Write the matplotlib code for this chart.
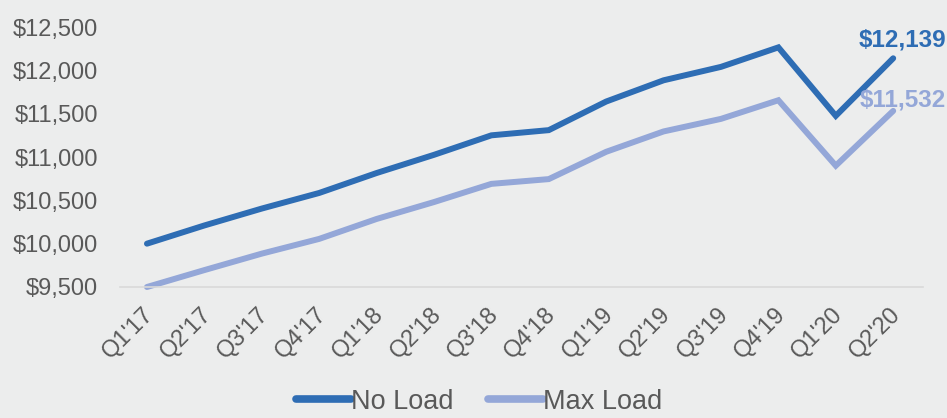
import matplotlib.pyplot as plt
from matplotlib.ticker import FuncFormatter
from matplotlib.transforms import ScaledTranslation

quarters = ["Q1'17", "Q2'17", "Q3'17", "Q4'17", "Q1'18", "Q2'18", "Q3'18",
            "Q4'18", "Q1'19", "Q2'19", "Q3'19", "Q4'19", "Q1'20", "Q2'20"]
no_load = [10000, 10210, 10405, 10585, 10815, 11025, 11250,
           11310, 11640, 11885, 12040, 12265, 11475, 12139]
max_load = [9500, 9695, 9885, 10055, 10285, 10480, 10690,
            10745, 11060, 11295, 11440, 11655, 10900, 11532]

dark_blue = "#2E6DB4"
light_blue = "#94A7D8"
bg = "#ECEDED"
grey = "#595959"

plt.rcParams['font.family'] = ['Liberation Sans', 'DejaVu Sans']

fig = plt.figure(figsize=(9.47, 4.18), dpi=100, facecolor=bg)
ax = fig.add_axes([0.1267, 0.3134, 0.848, 0.622])
ax.set_facecolor(bg)

x = list(range(len(quarters)))
ax.plot(x, no_load, color=dark_blue, lw=4.3, solid_capstyle='round',
        solid_joinstyle='miter', label="No Load", clip_on=False)
ax.plot(x, max_load, color=light_blue, lw=4.3, solid_capstyle='round',
        solid_joinstyle='miter', label="Max Load", clip_on=False)

ax.set_xlim(-0.47, 13.52)
ax.set_ylim(9500, 12500)
ax.set_yticks([9500, 10000, 10500, 11000, 11500, 12000, 12500])
ax.yaxis.set_major_formatter(FuncFormatter(lambda v, p: f"${v:,.0f}"))
ax.set_xticks(x)
ax.set_xticklabels(quarters, rotation=45, ha='right', rotation_mode='anchor')

for s in ['top', 'right', 'left']:
    ax.spines[s].set_visible(False)
ax.spines['bottom'].set_color("#D9D9D9")
ax.spines['bottom'].set_linewidth(1.2)
ax.tick_params(axis='both', length=0, colors=grey, labelsize=17)
ax.tick_params(axis='y', pad=16)
ax.tick_params(axis='x', pad=8)

# shift rotated quarter labels to sit under the tick like the original
shift = ScaledTranslation(-4 / 100, -5 / 100, fig.dpi_scale_trans)
for lbl in ax.get_xticklabels():
    lbl.set_transform(lbl.get_transform() + shift)

ax.annotate(f"${no_load[-1]:,}", (x[-1], no_load[-1]), xytext=(38, 5),
            textcoords='offset points', ha='right', va='bottom',
            color=dark_blue, fontsize=17.5, fontweight='bold', annotation_clip=False)
ax.annotate(f"${max_load[-1]:,}", (x[-1], max_load[-1]), xytext=(38, -0.5),
            textcoords='offset points', ha='right', va='bottom',
            color=light_blue, fontsize=17.5, fontweight='bold', annotation_clip=False)

leg = fig.legend(loc='lower center', bbox_to_anchor=(0.506, -0.05), ncol=2,
                 frameon=False, fontsize=19.5, handlelength=2.05,
                 handletextpad=0.0, columnspacing=1.25)
for line in leg.get_lines():
    line.set_linewidth(5.5)
for t in leg.get_texts():
    t.set_color(grey)

fig.savefig("out.png", dpi=100, facecolor=bg)
